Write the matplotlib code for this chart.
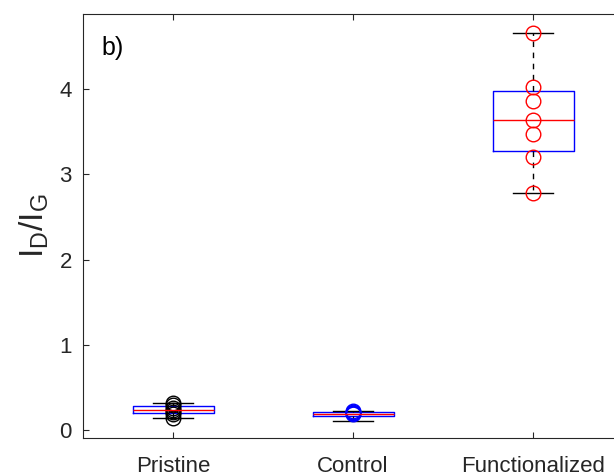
import matplotlib
matplotlib.use("Agg")
import matplotlib.pyplot as plt
import numpy as np

categories = ["Pristine", "Control", "Functionalized"]
# box stats: whisker low, q1, median, q3, whisker high
box_low = [0.144, 0.106, 2.777]
box_q1 = [0.196, 0.164, 3.272]
box_med = [0.231, 0.188, 3.636]
box_q3 = [0.285, 0.207, 3.981]
box_high = [0.313, 0.226, 4.653]
# individual measurements
pristine_pts = [0.144, 0.19, 0.21, 0.231, 0.26, 0.29, 0.313]
control_pts = [0.185, 0.195, 0.205, 0.215, 0.228]
functionalized_pts = [2.777, 3.206, 3.472, 3.636, 3.863, 4.020, 4.653]
yticks = [0, 1, 2, 3, 4]

plt.rcParams['font.family'] = ['Liberation Sans', 'DejaVu Sans']

fig = plt.figure(figsize=(6.14, 4.74), dpi=100)
ax = fig.add_axes([83/614, 36/474, 540/614, 424/474])

stats = []
for i, c in enumerate(categories):
    stats.append(dict(label=c, whislo=box_low[i], q1=box_q1[i], med=box_med[i],
                      q3=box_q3[i], whishi=box_high[i], fliers=[]))
pos = np.arange(1, len(categories) + 1)
ax.bxp(stats, positions=pos, widths=0.45, showfliers=False,
       boxprops=dict(color=(0, 0, 1), linewidth=1.0),
       medianprops=dict(color=(1, 0, 0), linewidth=1.0),
       whiskerprops=dict(color='black', linewidth=1.0, linestyle=(0, (4, 4))),
       capprops=dict(color='black', linewidth=1.0), capwidths=0.225)

pts = [pristine_pts, control_pts, functionalized_pts]
cols = ['black', (0, 0, 1), (1, 0, 0)]
for p, vals, col in zip(pos, pts, cols):
    ax.plot([p] * len(vals), vals, linestyle='none', marker='o', markersize=10.5,
            markerfacecolor='none', markeredgecolor=col, markeredgewidth=1.0)

ax.set_xlim(0.5, 3.5)
ax.set_ylim(-0.094, 4.88)
ax.set_xticks(pos)
ax.set_xticklabels(categories)
ax.set_yticks(yticks)
ax.tick_params(direction='in', length=4, width=0.8, top=True, right=True,
               labelsize=16, colors=(0.15, 0.15, 0.15))
ax.tick_params(axis='x', pad=13)
ax.tick_params(axis='y', pad=8)
for s in ax.spines.values():
    s.set_color((0.15, 0.15, 0.15))
    s.set_linewidth(0.8)
ax.set_ylabel(r'$\mathregular{I_D/I_G}$', fontsize=24, color=(0.15, 0.15, 0.15), labelpad=6)
ax.text(0.6, 4.48, 'b)', fontsize=18, va='center', ha='left', color='black')

fig.savefig('out.png', dpi=100)
